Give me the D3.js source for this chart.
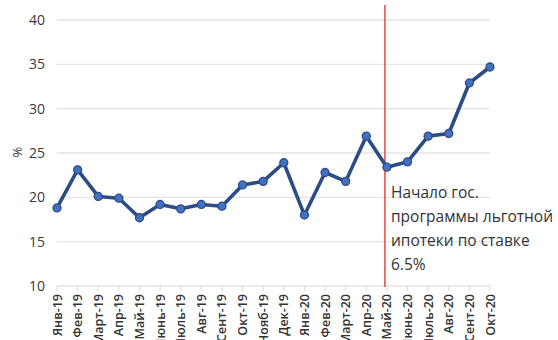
<!DOCTYPE html>
<html><head><meta charset="utf-8">
<script src="https://cdn.jsdelivr.net/npm/d3@7"></script>
<style>body{margin:0;background:#fff}svg{display:block}</style>
</head><body>
<svg id="c" width="558" height="340"></svg>
<script>
const categories = ["Янв-19","Фев-19","Март-19","Апр-19","Май-19","Июнь-19","Июль-19","Авг-19","Сент-19","Окт-19","Нояб-19","Дек-19","Янв-20","Фев-20","Март-20","Апр-20","Май-20","Июнь-20","Июль-20","Авг-20","Сент-20","Окт-20"];
const values = [18.8,23.1,20.1,19.9,17.7,19.2,18.7,19.2,19.0,21.4,21.8,23.9,18.0,22.8,21.8,26.9,23.4,24.0,26.9,27.2,32.9,34.7];
const yTicks = [10,15,20,25,30,35,40];
const markerCategory = "Май-20";
const annotation = ["Начало гос.","программы льготной","ипотеки по ставке","6.5%"];

const svg = d3.select("#c");
const x = d3.scalePoint().domain(categories).range([57,490]);
const y = d3.scaleLinear().domain([10,40]).range([286,20]);

svg.append("g").selectAll("line").data(yTicks).join("line")
  .attr("x1",57).attr("x2",490).attr("y1",d=>y(d)).attr("y2",d=>y(d))
  .attr("stroke","#e3e3e3").attr("stroke-width",1.4);

svg.append("g").selectAll("text").data(yTicks).join("text")
  .attr("x",45).attr("y",d=>y(d)).attr("dy","0.35em").attr("text-anchor","end")
  .attr("font-family","Open Sans, sans-serif").attr("font-size",14).attr("fill","#3a3a3a")
  .text(d=>d);

svg.append("text").attr("transform","translate(22,152) rotate(-90)")
  .attr("text-anchor","middle").attr("font-family","Open Sans, sans-serif")
  .attr("font-size",13).attr("fill","#3a3a3a").text("%");

svg.append("g").selectAll("line").data(categories).join("line")
  .attr("x1",d=>x(d)).attr("x2",d=>x(d)).attr("y1",286).attr("y2",291)
  .attr("stroke","#d9d9d9");
svg.append("g").selectAll("text").data(categories).join("text")
  .attr("transform",d=>`translate(${x(d)+4.5},294) rotate(-90)`)
  .attr("text-anchor","end").attr("font-family","Open Sans, sans-serif")
  .attr("font-size",12.5).attr("font-weight",600).attr("fill","#333").text(d=>d);

svg.append("line").attr("x1",x(markerCategory)-2).attr("x2",x(markerCategory)-2)
  .attr("y1",5).attr("y2",287).attr("stroke","#e8534f").attr("stroke-width",1.6);

svg.append("path").datum(values)
  .attr("d",d3.line().x((d,i)=>x(categories[i])).y(d=>y(d)))
  .attr("fill","none").attr("stroke","#2c4c86").attr("stroke-width",3.6)
  .attr("stroke-linejoin","round");
svg.append("g").selectAll("circle").data(values).join("circle")
  .attr("cx",(d,i)=>x(categories[i])).attr("cy",d=>y(d)).attr("r",4)
  .attr("fill","#4470c0").attr("stroke","#2c4c86").attr("stroke-width",1.3);

svg.append("g").selectAll("text").data(annotation).join("text")
  .attr("x",391).attr("y",(d,i)=>198+i*24)
  .attr("font-family","Open Sans, sans-serif").attr("font-size",15.5).attr("fill","#333")
  .attr("textLength",(d,i)=>i===1?162:null)
  .text(d=>d);
</script>
</body></html>
